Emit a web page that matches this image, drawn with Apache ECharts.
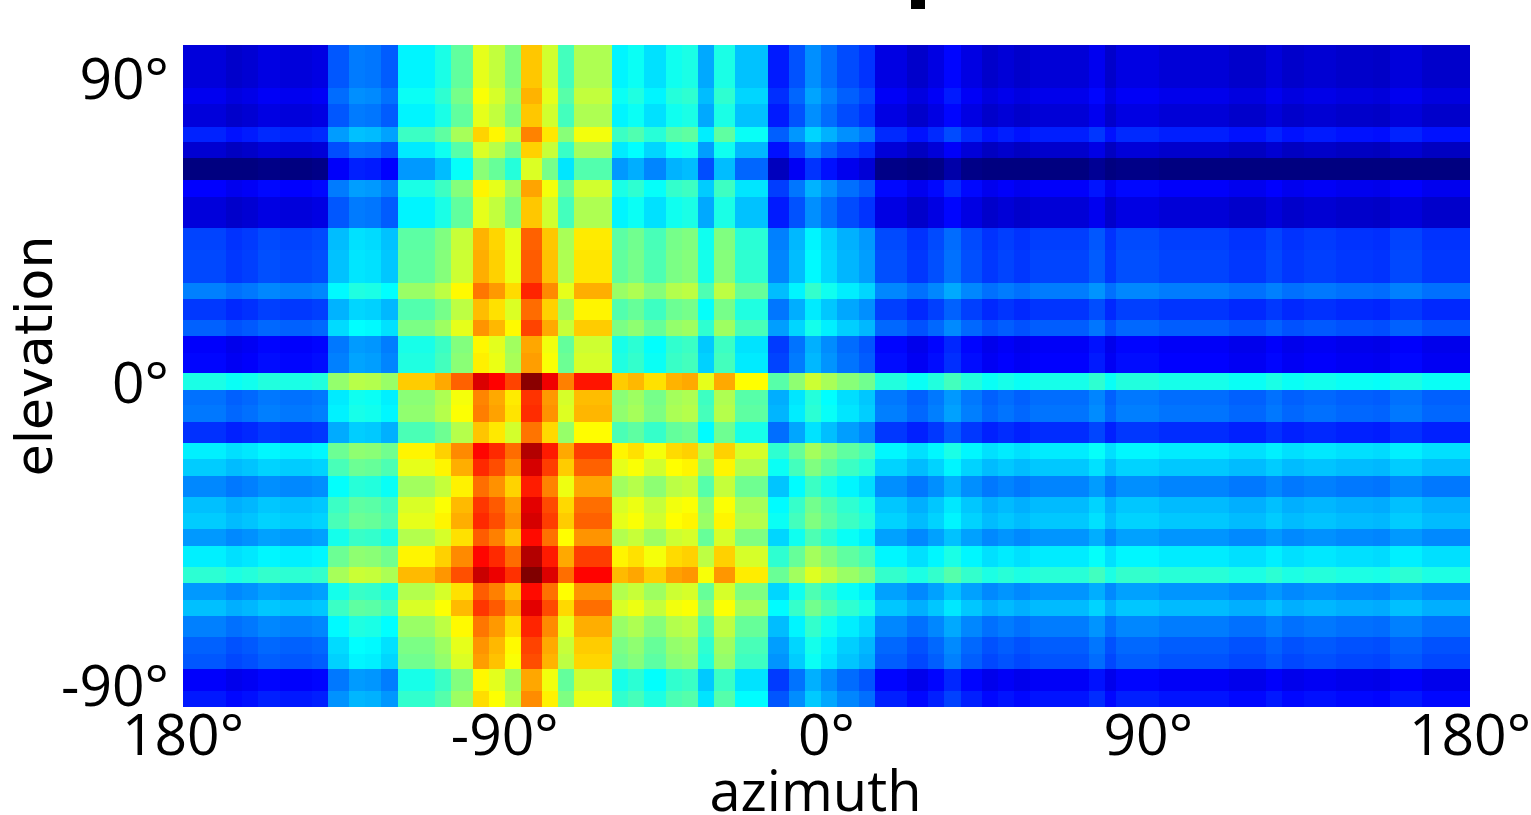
<!DOCTYPE html>
<html><head><meta charset="utf-8">
<style>html,body{margin:0;padding:0;background:#fff}#c{width:1531px;height:815px}</style>
<script src="https://cdn.jsdelivr.net/npm/echarts@6/dist/echarts.min.js"></script>
</head><body><div id="c"></div>
<script>
// Bin edges and levels were read by eye from zoomed crops of the reference.
// Note: each cell is NOT read individually. The picture's cells behave as
// elevation level + azimuth offset, so one level per elevation band and one
// offset per azimuth band were read, and the cells are their sum.
const azimuthEdges = [-180,-168,-163.5,-159,-153,-148.5,-144,-139.5,-133.5,-129,-124.5,-120,-109.5,-105,-99,-94.5,-90,-85.5,-79.5,-75,-70.5,-60,-55.5,-51,-45,-40.5,-36,-31.5,-25.5,-16.5,-10.5,-6,-1.5,3,9,13.5,18,22.5,28.5,33,37.5,43.5,48,52.5,57,73.5,78,81,93,112.5,123,127.5,133.5,142.5,153,157.5,166.5,180];
const azimuthOffsets = [0,-.016,-.008,.007,0,0,.007,.12,.155,.15,.125,.275,.31,.38,.51,.475,.41,.59,.49,.35,.455,.275,.295,.255,.30,.31,.20,.31,.225,.06,.115,.175,.14,.108,.085,.007,.007,-.016,.007,.04,.007,-.016,-.004,-.016,-.004,.02,-.016,.007,-.004,-.016,0,-.016,-.008,-.016,-.02,0,-.016];
const elevationEdges = [101.3,88.4,83.7,77.0,72.4,67.7,61.4,56.3,46.9,40.5,35.5,30.8,26.0,19.8,15.1,10.0,3.9,-0.9,-5.5,-10.6,-16.8,-21.6,-26.5,-32.9,-37.6,-42.3,-47.2,-53.6,-58.4,-63.2,-68.0,-74.3,-79.2,-83.9,-90.2,-95.05];
const elevationLevels = [.09,.11,.09,.158,.08,0,.125,.09,.19,.195,.195,.25,.18,.22,.122,.13,.40,.235,.242,.172,.36,.325,.258,.3125,.325,.275,.36,.418,.275,.3125,.25,.22,.21,.122,.148];
const azimuthTicks = [-180,-90,0,90,180];
const elevationTicks = [-90,0,90];
const jetColors = ['#000080','#0000ff','#0080ff','#00ffff','#80ff80','#ffff00','#ff8000','#ff0000','#800000'];

const cells = [];
elevationLevels.forEach((lvl, r) => azimuthOffsets.forEach((off, c) => {
  cells.push([azimuthEdges[c], azimuthEdges[c+1], elevationEdges[r+1], elevationEdges[r], lvl + off]);
}));

const FONT = '"Open Sans"';
const labelFmt = v => Math.abs(v) === 180 ? '180°' : v + '°';
const chart = echarts.init(document.getElementById('c'), null, {renderer:'canvas'});
chart.setOption({
  animation:false,
  backgroundColor:'#fff',
  grid:{left:183,right:61,top:45,bottom:108,containLabel:false,outerBoundsMode:'none'},
  xAxis:{type:'value',min:-180,max:180,
    axisLine:{show:false},axisTick:{show:false},splitLine:{show:false},
    axisLabel:{customValues:azimuthTicks,formatter:labelFmt,color:'#000',fontFamily:FONT,fontSize:57,margin:3,showMinLabel:true,showMaxLabel:true,hideOverlap:false},
    name:'azimuth',nameLocation:'middle',nameGap:60,nameMoveOverlap:false,
    nameTextStyle:{color:'#000',fontFamily:FONT,fontSize:56,padding:[0,22,0,0]}},
  yAxis:{type:'value',min:-95.05,max:101.3,
    axisLine:{show:false},axisTick:{show:false},splitLine:{show:false},
    axisLabel:{customValues:elevationTicks,formatter:labelFmt,color:'#000',fontFamily:FONT,fontSize:57,margin:14,padding:[8,0,0,0],hideOverlap:false},
    name:'elevation',nameLocation:'middle',nameGap:119,nameRotate:90,nameMoveOverlap:false,
    nameTextStyle:{color:'#000',fontFamily:'"DejaVu Sans"',fontSize:52,padding:[0,0,0,40]}},
  visualMap:{show:false,type:'continuous',min:0,max:1,dimension:4,seriesIndex:0,inRange:{color:jetColors}},
  series:[{type:'custom',silent:true,clip:true,data:cells,encode:{x:[0,1],y:[2,3]},
    renderItem:(params,api)=>{
      const a=api.coord([api.value(0),api.value(3)]);
      const b=api.coord([api.value(1),api.value(2)]);
      const x=Math.round(a[0]),y=Math.round(a[1]);
      return {type:'rect',shape:{x,y,width:Math.round(b[0])-x,height:Math.round(b[1])-y},style:{fill:api.visual('color')}};
    }}],
  graphic:[{type:'rect',left:911,top:0,shape:{width:14,height:9},style:{fill:'#000'}}]
});
</script></body></html>
